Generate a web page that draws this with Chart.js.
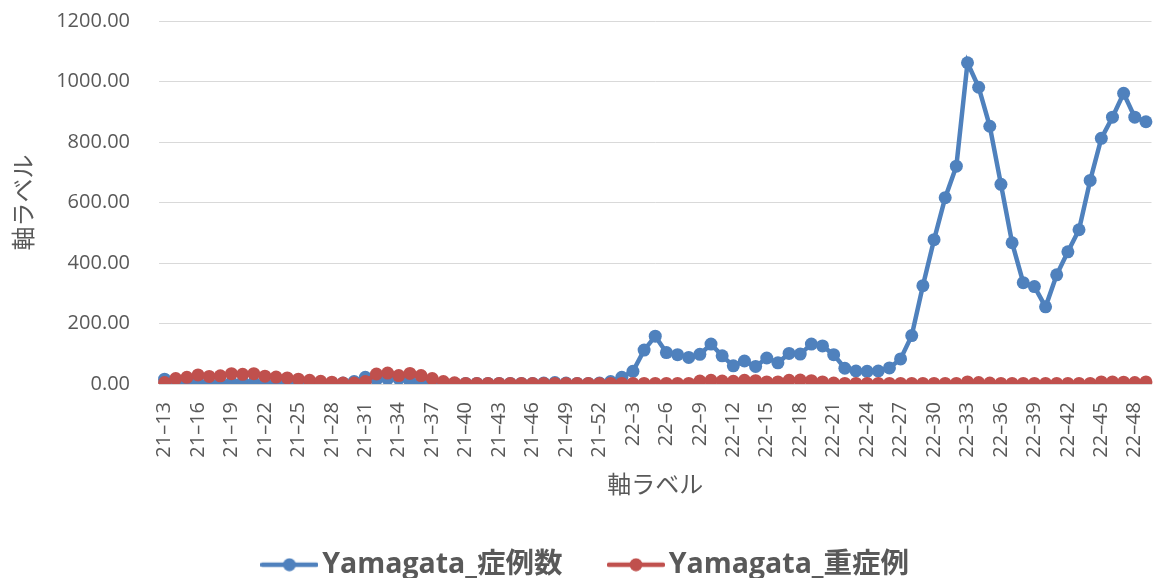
<!DOCTYPE html>
<html>
<head>
<meta charset="utf-8">
<script src="https://cdn.jsdelivr.net/npm/chart.js@4.4.1/dist/chart.umd.min.js"></script>
<style>
  html, body { margin: 0; padding: 0; background: #fff; }
  #chart { display: block; }
</style>
</head>
<body>
<canvas id="chart" width="1158" height="578"></canvas>
<script>
// 週ラベル (年-週)
const weeks = [
    '21–13','21–14','21–15','21–16','21–17','21–18','21–19','21–20','21–21','21–22',
    '21–23','21–24','21–25','21–26','21–27','21–28','21–29','21–30','21–31','21–32',
    '21–33','21–34','21–35','21–36','21–37','21–38','21–39','21–40','21–41','21–42',
    '21–43','21–44','21–45','21–46','21–47','21–48','21–49','21–50','21–51','21–52',
    '22–1','22–2','22–3','22–4','22–5','22–6','22–7','22–8','22–9','22–10',
    '22–11','22–12','22–13','22–14','22–15','22–16','22–17','22–18','22–19','22–20',
    '22–21','22–22','22–23','22–24','22–25','22–26','22–27','22–28','22–29','22–30',
    '22–31','22–32','22–33','22–34','22–35','22–36','22–37','22–38','22–39','22–40',
    '22–41','22–42','22–43','22–44','22–45','22–46','22–47','22–48','22–49'
];

// 症例数
const cases = [
    16, 12, 8, 5, 4, 4, 5, 6, 5, 4,
    3, 2, 2, 2, 2, 2, 3, 8, 22, 15,
    17, 18, 10, 6, 3, 2, 2, 2, 2, 2,
    2, 2, 2, 2, 3, 5, 3, 2, 2, 3,
    8, 22, 42, 112, 158, 104, 97, 88, 98, 132,
    93, 60, 76, 58, 86, 70, 101, 99, 132, 126,
    97, 52, 43, 42, 43, 53, 83, 160, 325, 477,
    616, 720, 1062, 981, 852, 660, 467, 335, 322, 255,
    361, 437, 510, 673, 812, 882, 961, 882, 867
];

// 重症例
const severe = [
    5, 18, 22, 30, 25, 27, 34, 32, 34, 26,
    23, 20, 16, 12, 9, 6, 3, 3, 8, 33,
    36, 28, 35, 28, 18, 8, 4, 2, 2, 2,
    2, 2, 2, 2, 2, 2, 2, 2, 2, 2,
    2, 2, 2, 2, 2, 2, 2, 2, 10, 12,
    10, 9, 12, 11, 7, 7, 12, 13, 11, 7,
    3, 2, 2, 2, 2, 2, 2, 2, 2, 2,
    2, 2, 7, 5, 3, 2, 2, 2, 2, 2,
    2, 2, 2, 2, 7, 7, 6, 5, 7
];

const yTicks = [0, 200, 400, 600, 800, 1000, 1200];

const BLUE = '#4f81bd';
const RED = '#c0504d';
const TEXT = '#595959';
const FONT = "'Open Sans', 'Noto Sans CJK JP', sans-serif";

// 凡例のマーカー (線 + 丸)
function makeMarker(color) {
    const c = document.createElement('canvas');
    c.width = 58;
    c.height = 14;
    const g = c.getContext('2d');
    g.strokeStyle = color;
    g.lineWidth = 4.5;
    g.lineCap = 'round';
    g.beginPath();
    g.moveTo(2, 7);
    g.lineTo(56, 7);
    g.stroke();
    g.fillStyle = color;
    g.beginPath();
    g.arc(29, 7, 6.5, 0, Math.PI * 2);
    g.fill();
    return c;
}
const markers = [makeMarker(BLUE), makeMarker(RED)];

new Chart(document.getElementById('chart'), {
    type: 'line',
    data: {
        labels: weeks,
        datasets: [{
            label: 'Yamagata_症例数',
            data: cases,
            borderColor: BLUE,
            backgroundColor: BLUE,
            pointBackgroundColor: BLUE,
            pointBorderColor: BLUE,
            borderWidth: 4.5,
            pointRadius: 6.5,
            pointBorderWidth: 0,
            tension: 0,
            order: 1
        }, {
            label: 'Yamagata_重症例',
            data: severe,
            borderColor: RED,
            backgroundColor: RED,
            pointBackgroundColor: RED,
            pointBorderColor: RED,
            borderWidth: 4.5,
            pointRadius: 6.5,
            pointBorderWidth: 0,
            tension: 0,
            order: 0
        }]
    },
    options: {
        responsive: false,
        animation: false,
        layout: {
            padding: { top: 21, right: 0, bottom: -11, left: 22 }
        },
        plugins: {
            tooltip: { enabled: false },
            legend: {
                position: 'bottom',
                labels: {
                    usePointStyle: true,
                    pointStyleWidth: 37,
                    padding: 55,
                    color: TEXT,
                    font: { family: FONT, size: 28.5, weight: 'bold' },
                    sort: (a, b) => a.datasetIndex - b.datasetIndex,
                    generateLabels: chart => Chart.defaults.plugins.legend.labels.generateLabels(chart)
                        .map(l => ({ ...l, pointStyle: markers[l.datasetIndex] }))
                }
            }
        },
        scales: {
            x: {
                offset: true,
                grid: { display: false },
                border: { display: true, color: '#d9d9d9', width: 1 },
                ticks: {
                    autoSkip: false,
                    maxRotation: 90,
                    minRotation: 90,
                    padding: 10,
                    color: TEXT,
                    font: { family: FONT, size: 20 },
                    callback: function(value, index) {
                        return index % 3 === 0 ? this.getLabelForValue(value) : '';
                    }
                },
                title: {
                    display: true,
                    text: '軸ラベル',
                    color: TEXT,
                    font: { family: FONT, size: 24 },
                    padding: { top: 0, bottom: -5 }
                },
                afterFit: scale => {
                    scale.height = 111.5;
                    scale.paddingLeft = 0;
                    scale.paddingRight = 0;
                }
            },
            y: {
                min: yTicks[0],
                max: yTicks[yTicks.length - 1],
                afterBuildTicks: scale => {
                    scale.ticks = yTicks.map(v => ({ value: v }));
                },
                grid: { color: '#d9d9d9', lineWidth: 1, drawTicks: false },
                border: { display: false },
                ticks: {
                    padding: 29,
                    color: TEXT,
                    font: { family: FONT, size: 20 },
                    callback: v => v.toFixed(2)
                },
                title: {
                    display: true,
                    text: '軸ラベル',
                    color: TEXT,
                    font: { family: FONT, size: 24 },
                    padding: { top: -11, bottom: 0 }
                },
                afterFit: scale => {
                    scale.width = 137;
                    scale.paddingTop = 0;
                    scale.paddingBottom = 0;
                }
            }
        }
    }
});
</script>
</body>
</html>
